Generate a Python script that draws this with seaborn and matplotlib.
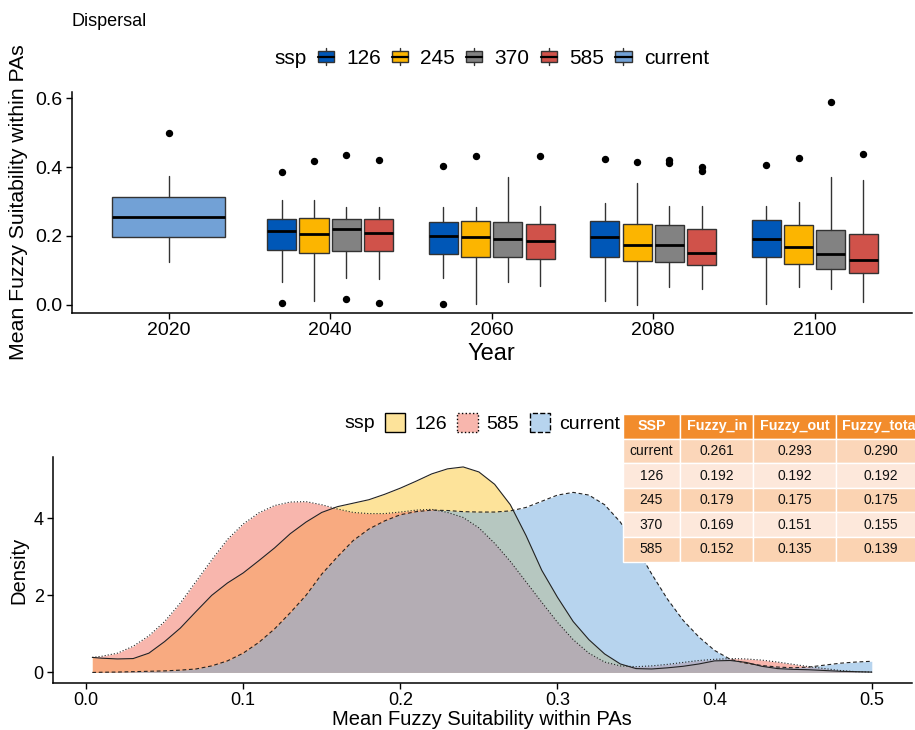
import numpy as np
import pandas as pd
import matplotlib
matplotlib.use("Agg")
import matplotlib.pyplot as plt
import seaborn as sns
from matplotlib.patches import Patch, Rectangle
from matplotlib.lines import Line2D
from matplotlib.legend_handler import HandlerBase

# ---------------- data: box plot (top panel) ----------------
years = ["2020", "2040", "2060", "2080", "2100"]
ssp_levels = ["126", "245", "370", "585", "current"]
ssp_colors = ["#0057B7", "#FCB500", "#828282", "#D0524A", "#72A1D6"]

box_year = ["2020",
            "2040", "2040", "2040", "2040",
            "2060", "2060", "2060", "2060",
            "2080", "2080", "2080", "2080",
            "2100", "2100", "2100", "2100"]
box_ssp = ["current",
           "126", "245", "370", "585",
           "126", "245", "370", "585",
           "126", "245", "370", "585",
           "126", "245", "370", "585"]
box_whislo = [0.123,
              0.066, 0.010, 0.078, 0.074,
              0.078, 0.001, 0.065, 0.054,
              0.010, 0.000, 0.052, 0.045,
              0.003, 0.052, 0.046, 0.009]
box_q1 = [0.196,
          0.159, 0.149, 0.157, 0.156,
          0.147, 0.140, 0.139, 0.134,
          0.139, 0.128, 0.125, 0.116,
          0.139, 0.118, 0.104, 0.0925]
box_med = [0.255,
           0.215, 0.206, 0.220, 0.209,
           0.200, 0.197, 0.192, 0.185,
           0.198, 0.174, 0.173, 0.150,
           0.192, 0.168, 0.148, 0.130]
box_q3 = [0.314,
          0.248, 0.253, 0.250, 0.250,
          0.241, 0.244, 0.241, 0.236,
          0.2435, 0.236, 0.231, 0.220,
          0.245, 0.232, 0.216, 0.2055]
box_whishi = [0.373,
              0.305, 0.305, 0.285, 0.285,
              0.284, 0.283, 0.370, 0.287,
              0.295, 0.355, 0.287, 0.286,
              0.287, 0.299, 0.370, 0.361]
box_fliers = [[0.499],
              [0.387, 0.006], [0.419], [0.434, 0.016], [0.421, 0.006],
              [0.404, 0.003], [0.433], [], [0.432],
              [0.423], [0.416], [0.422, 0.412], [0.400, 0.390],
              [0.406], [0.427], [0.589], [0.438]]

# ---------------- data: density curves (bottom panel) ----------------
dens_x = [0.004, 0.01, 0.02, 0.03, 0.04, 0.05, 0.06, 0.07, 0.08, 0.09,
          0.10, 0.11, 0.12, 0.13, 0.14, 0.15, 0.16, 0.17, 0.18, 0.19,
          0.20, 0.21, 0.22, 0.23, 0.24, 0.25, 0.26, 0.27, 0.28, 0.29,
          0.30, 0.31, 0.32, 0.33, 0.34, 0.35, 0.36, 0.37, 0.38, 0.39,
          0.40, 0.41, 0.42, 0.43, 0.44, 0.45, 0.46, 0.47, 0.48, 0.49, 0.50]
dens_126 = [0.39, 0.37, 0.35, 0.36, 0.50, 0.80, 1.15, 1.58, 2.00, 2.32,
            2.58, 2.90, 3.23, 3.60, 3.90, 4.15, 4.30, 4.39, 4.48, 4.62,
            4.78, 4.96, 5.15, 5.28, 5.33, 5.20, 4.88, 4.35, 3.55, 2.65,
            1.95, 1.32, 0.85, 0.48, 0.22, 0.10, 0.09, 0.12, 0.16, 0.22,
            0.30, 0.31, 0.26, 0.16, 0.10, 0.08, 0.07, 0.05, 0.03, 0.02, 0.01]
dens_585 = [0.39, 0.42, 0.50, 0.68, 0.95, 1.32, 1.80, 2.36, 2.92, 3.45,
            3.85, 4.14, 4.33, 4.42, 4.43, 4.35, 4.24, 4.15, 4.12, 4.12,
            4.16, 4.21, 4.23, 4.15, 4.02, 3.75, 3.35, 2.88, 2.35, 1.82,
            1.30, 0.85, 0.50, 0.27, 0.17, 0.15, 0.17, 0.21, 0.26, 0.31,
            0.34, 0.36, 0.35, 0.32, 0.27, 0.21, 0.15, 0.10, 0.05, 0.02, 0.01]
dens_current = [0.00, 0.005, 0.01, 0.02, 0.03, 0.04, 0.06, 0.09, 0.17, 0.30,
                0.50, 0.78, 1.13, 1.55, 2.00, 2.55, 3.00, 3.42, 3.72, 3.93,
                4.09, 4.17, 4.21, 4.20, 4.17, 4.16, 4.16, 4.19, 4.28, 4.44,
                4.60, 4.67, 4.60, 4.35, 3.90, 3.25, 2.55, 1.90, 1.35, 0.92,
                0.57, 0.34, 0.24, 0.18, 0.14, 0.12, 0.14, 0.19, 0.24, 0.27, 0.29]
dens_labels = ["126", "585", "current"]
dens_fill = ["#FDCC47", "#F47B6B", "#7CB1E0"]
dens_alpha = 0.55
dens_ls = ["-", (0, (1.0, 1.8)), (0, (3.4, 2.4))]

# ---------------- data: table ----------------
tab_cols = ["SSP", "Fuzzy_in", "Fuzzy_out", "Fuzzy_total"]
tab_ssp = ["current", "126", "245", "370", "585"]
tab_fuzzy_in = [0.261, 0.192, 0.179, 0.169, 0.152]
tab_fuzzy_out = [0.293, 0.192, 0.175, 0.151, 0.135]
tab_fuzzy_total = [0.290, 0.192, 0.175, 0.155, 0.139]

# ---------------- style ----------------
sns.set_theme(style="ticks")
plt.rcParams['font.family'] = ['Liberation Sans', 'DejaVu Sans']
plt.rcParams['axes.linewidth'] = 1.1
plt.rcParams['axes.edgecolor'] = 'black'
plt.rcParams['xtick.color'] = 'black'
plt.rcParams['ytick.color'] = 'black'
plt.rcParams['text.color'] = 'black'
plt.rcParams['axes.labelcolor'] = 'black'

W, H = 915, 730
fig = plt.figure(figsize=(W / 100, H / 100), dpi=100)
fig.patch.set_facecolor('white')


def fax(l, t, r, b):
    return fig.add_axes([l / W, 1 - b / H, (r - l) / W, (b - t) / H])


# ================= top panel: box plots =================
ax1 = fax(71.7, 91.7, 911.7, 313.0)
offsets = {"126": -0.3, "245": -0.1, "370": 0.1, "585": 0.3, "current": 0.0}
stats, positions, widths, colors = [], [], [], []
for i in range(len(box_year)):
    stats.append(dict(whislo=box_whislo[i], q1=box_q1[i], med=box_med[i],
                      q3=box_q3[i], whishi=box_whishi[i], fliers=box_fliers[i]))
    yi = years.index(box_year[i])
    s = box_ssp[i]
    positions.append(yi + offsets[s])
    widths.append(0.70 if s == "current" else 0.18)
    colors.append(ssp_colors[ssp_levels.index(s)])

bp = ax1.bxp(stats, positions=positions, widths=widths, patch_artist=True,
             showcaps=False, showfliers=True,
             boxprops=dict(edgecolor='#333333', linewidth=1.0),
             whiskerprops=dict(color='#333333', linewidth=1.0),
             medianprops=dict(color='black', linewidth=2.0),
             flierprops=dict(marker='o', markerfacecolor='black',
                             markeredgecolor='black', markersize=4.3))
for patch, c in zip(bp['boxes'], colors):
    patch.set_facecolor(c)

ax1.set_xlim(-0.6, 4.6)
ax1.set_ylim(-0.024, 0.619)
ax1.set_xticks(range(len(years)))
ax1.set_xticklabels(years)
ax1.set_yticks([0.0, 0.2, 0.4, 0.6])
ax1.set_yticklabels(["0.0", "0.2", "0.4", "0.6"])
ax1.tick_params(axis='both', labelsize=14, length=4, width=1.0, pad=2.5)
ax1.set_xlabel("Year", fontsize=17, labelpad=3)
ax1.set_ylabel("Mean Fuzzy Suitability within PAs", fontsize=15.3, labelpad=5)
sns.despine(ax=ax1)
ax1.set_facecolor('white')


class BoxKeyHandler(HandlerBase):
    def create_artists(self, legend, orig_handle, xdescent, ydescent,
                       width, height, fontsize, trans):
        x0, y0 = -xdescent, -ydescent
        fc = orig_handle.get_facecolor()
        rect = Rectangle((x0 + 0.04 * width, y0 + 0.16 * height), 0.92 * width,
                         0.68 * height, facecolor=fc, edgecolor='#333333',
                         lw=1.0, transform=trans)
        med = Line2D([x0 + 0.04 * width, x0 + 0.96 * width],
                     [y0 + 0.5 * height] * 2, color='black', lw=1.6,
                     transform=trans)
        w1 = Line2D([x0 + 0.5 * width] * 2, [y0 - 0.05 * height, y0 + 0.16 * height],
                    color='#333333', lw=1.0, transform=trans)
        w2 = Line2D([x0 + 0.5 * width] * 2, [y0 + 0.84 * height, y0 + 1.05 * height],
                    color='#333333', lw=1.0, transform=trans)
        return [rect, med, w1, w2]


top_handles = [Patch(facecolor=c) for c in ssp_colors]
leg1 = fig.legend(top_handles, ssp_levels, loc='center left',
                  bbox_to_anchor=(0.3, 1 - 58.3 / H), bbox_transform=fig.transFigure,
                  ncol=5, frameon=False, fontsize=15, handlelength=0.85,
                  handleheight=0.8, handletextpad=0.55, columnspacing=0.5,
                  borderpad=0, borderaxespad=0,
                  handler_map={Patch: BoxKeyHandler()})
ssp_t1 = fig.text(0.2, 1 - 58.3 / H, "ssp", fontsize=15, ha='left', va='center')

# ================= bottom panel: densities =================
ax2 = fax(52.7, 457.3, 911.7, 682.7)
series = [dens_126, dens_585, dens_current]
for vals, fc, ls in zip(series, dens_fill, dens_ls):
    ax2.fill_between(dens_x, 0, vals, color=fc, alpha=dens_alpha, lw=0)
    sns.lineplot(x=dens_x, y=vals, ax=ax2, color='#222222', linewidth=0.8,
                 linestyle=ls)
ax2.set_xlim(-0.0212, 0.5254)
ax2.set_ylim(-0.266, 5.58)
ax2.set_xticks([0.0, 0.1, 0.2, 0.3, 0.4, 0.5])
ax2.set_xticklabels(["0.0", "0.1", "0.2", "0.3", "0.4", "0.5"])
ax2.set_yticks([0, 2, 4])
ax2.set_yticklabels(["0", "2", "4"])
ax2.tick_params(axis='both', labelsize=13, length=4, width=1.0, pad=2.5)
ax2.set_xlabel("Mean Fuzzy Suitability within PAs", fontsize=14.5, labelpad=1)
ax2.set_ylabel("Density", fontsize=14.5, labelpad=4)
sns.despine(ax=ax2)
ax2.set_facecolor('white')

bot_handles = [Patch(facecolor=matplotlib.colors.to_rgba(fc, dens_alpha),
                     edgecolor='black', linewidth=1.0, linestyle=ls)
               for fc, ls in zip(dens_fill, ["-", ":", "--"])]
leg2 = fig.legend(bot_handles, dens_labels, loc='center left',
                  bbox_to_anchor=(0.4, 1 - 423.3 / H), bbox_transform=fig.transFigure,
                  ncol=3, frameon=False, fontsize=14, handlelength=1.05,
                  handleheight=1.05, handletextpad=0.45, columnspacing=0.55,
                  borderpad=0, borderaxespad=0)
ssp_t2 = fig.text(0.3, 1 - 423.3 / H, "ssp", fontsize=14, ha='left', va='center')

# centre "ssp" + legend groups over their panels
fig.canvas.draw()
rend = fig.canvas.get_renderer()
for leg, txt, cx, gap in [(leg1, ssp_t1, 491.7, 10), (leg2, ssp_t2, 482.2, 10)]:
    wl = leg.get_window_extent(rend).width
    wt = txt.get_window_extent(rend).width
    start = cx - (wl + wt + gap) / 2
    txt.set_x(start / W)
    leg.set_bbox_to_anchor(((start + wt + gap) / W, leg.get_bbox_to_anchor().y0 / H),
                           transform=fig.transFigure)

# title
fig.text(71.7 / W, 1 - 21.7 / H, "Dispersal", fontsize=13, ha='left', va='center')

# ================= table =================
ax3 = fax(622.7, 414.0, 926.0, 561.7)
ax3.axis('off')
cell_text = [[s, f"{a:.3f}", f"{b:.3f}", f"{c:.3f}"]
             for s, a, b, c in zip(tab_ssp, tab_fuzzy_in, tab_fuzzy_out, tab_fuzzy_total)]
cw = np.array([57.3, 73.3, 82.7, 90.0])
tbl = ax3.table(cellText=cell_text, colLabels=tab_cols, cellLoc='center',
                bbox=[0, 0, 1, 1], colWidths=list(cw / cw.sum()))
tbl.auto_set_font_size(False)
tbl.set_fontsize(10)
row_cols = ["#FBD6B9", "#FDE8DB", "#FBD3B2", "#FDE8DB", "#FBD3B2"]
for (r, c), cell in tbl.get_celld().items():
    cell.set_edgecolor('white')
    cell.set_linewidth(1.0)
    if r == 0:
        cell.set_facecolor('#F28C2C')
        cell.get_text().set_color('white')
        cell.get_text().set_fontweight('bold')
        cell.get_text().set_fontsize(10.3)
    else:
        cell.set_facecolor(row_cols[r - 1])
        cell.get_text().set_color('#111111')

fig.savefig("out.png", dpi=100, facecolor='white')
